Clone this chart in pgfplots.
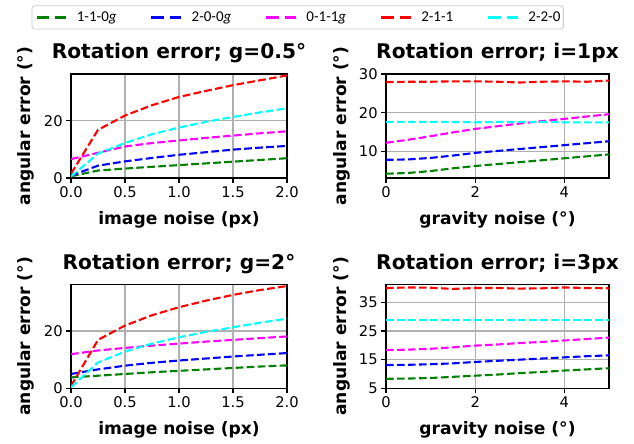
\documentclass[border=0pt]{standalone}
\usepackage{fontspec}
\setmainfont{DejaVu Sans}
\newfontfamily\legfont{Carlito}
\usepackage{pgfplots}
\pgfplotsset{compat=1.18}
\definecolor{mgreen}{rgb}{0,0.5,0}
\definecolor{mblue}{rgb}{0,0,1}
\definecolor{mmag}{rgb}{1,0,1}
\definecolor{mred}{rgb}{1,0,0}
\definecolor{mcyan}{rgb}{0,1,1}
\pgfplotsset{
 myax/.style={
  scale only axis, height=104pt,
  axis line style={line width=1.1pt},
  tick align=outside, major tick length=4.8pt,
  every tick/.style={black,line width=1.1pt},
  xtick pos=lower, ytick pos=left,
  grid=major, major grid style={line width=1.1pt, color=black!31},
  tick label style={font=\fontsize{14.7}{17}\selectfont},
  /pgf/number format/assume math mode=true,
  label style={font=\bfseries\fontsize{17.1}{20}\selectfont},
  title style={font=\bfseries\fontsize{20.2}{24}\selectfont, at={(axis description cs:0.5,1)}, anchor=base, yshift=9pt},
  every axis plot/.append style={line width=2.1pt, dash pattern=on 7.7pt off 3.3pt, mark=none},
  ylabel={angular error (°)},
  xlabel style={at={(axis description cs:0.5,-0.404)}, anchor=center},
 },
 leftax/.style={myax, width=216pt, xmin=0, xmax=2, ymin=0, ymax=36.3,
  xtick={0,0.5,1,1.5,2}, ytick={0,20},
  xticklabel style={/pgf/number format/.cd, fixed, fixed zerofill, precision=1},
  xlabel={image noise (px)},
  ylabel style={at={(axis description cs:-0.21,0.5)}, anchor=center}},
 rightax/.style={myax, width=223pt, xmin=0, xmax=5,
  xtick={0,2,4},
  xlabel={gravity noise (°)},
  ylabel style={at={(axis description cs:-0.199,0.5)}, anchor=center}},
}
\begin{document}
\begin{tikzpicture}
\useasboundingbox (0,0) rectangle (634pt,444pt);
% top left
\begin{axis}[leftax, at={(71pt,266pt)}, anchor=south west,
  title={Rotation error; g=0.5°},
  legend columns=5,
  legend image code/.code={\draw[#1, line width=3.4pt, dash pattern=on 12.8pt off 5.6pt] (0pt,0pt) -- (29.5pt,0pt);},
  legend style={at={(axis description cs:-0.1806,1.4327)}, anchor=south west,
    draw=black!20, line width=0.8pt, rounded corners=2.5pt, fill=white,
    inner xsep=3pt, inner ysep=6pt, outer sep=0pt,
    font=\legfont\fontsize{15}{18}\selectfont,
    nodes={inner sep=0pt},
    /tikz/every odd column/.append style={column sep=9pt},
    /tikz/every even column/.append style={column sep=33.2pt}},
  legend cell align=left]
\addplot[mgreen] coordinates {(0,0.6)(0.25,2.6)(0.5,3.3)(0.75,3.9)(1,4.5)(1.25,5.1)(1.5,5.7)(1.75,6.3)(2,6.9)};
\addlegendentry{1-1-0\textit{g}}
\addplot[mblue] coordinates {(0,0.8)(0.25,4.3)(0.5,5.8)(0.75,7.0)(1,8.1)(1.25,9.0)(1.5,9.9)(1.75,10.6)(2,11.2)};
\addlegendentry{2-0-0\textit{g}}
\addplot[mmag] coordinates {(0,6.6)(0.25,8.8)(0.5,11.0)(0.75,12.2)(1,13.1)(1.25,14.0)(1.5,14.8)(1.75,15.6)(2,16.3)};
\addlegendentry{0-1-1\textit{g}}
\addplot[mred] coordinates {(0,1.5)(0.25,16.8)(0.5,21.8)(0.75,25.4)(1,28.3)(1.25,30.4)(1.5,32.4)(1.75,34.1)(2,35.8)};
\addlegendentry{2-1-1}
\addplot[mcyan] coordinates {(0,0.5)(0.25,8.5)(0.5,12.2)(0.75,15.3)(1,17.6)(1.25,19.6)(1.5,21.3)(1.75,22.9)(2,24.3)};
\addlegendentry{2-2-0}
\end{axis}
% top right
\begin{axis}[rightax, at={(386pt,266pt)}, anchor=south west,
  title={Rotation error; i=1px}, ymin=3.1, ymax=30, ytick={10,20,30}]
\addplot[mgreen] coordinates {(0,4.2)(0.5,4.4)(1,4.9)(1.5,5.6)(2,6.2)(2.5,6.7)(3,7.2)(3.5,7.7)(4,8.2)(4.5,8.7)(5,9.2)};
\addplot[mblue] coordinates {(0,7.8)(0.5,7.9)(1,8.3)(1.5,8.9)(2,9.6)(2.5,10.1)(3,10.6)(3.5,11.1)(4,11.6)(4.5,12.1)(5,12.6)};
\addplot[mmag] coordinates {(0,12.2)(0.5,13.0)(1,13.9)(1.5,14.9)(2,15.8)(2.5,16.5)(3,17.2)(3.5,17.8)(4,18.4)(4.5,19.0)(5,19.6)};
\addplot[mred] coordinates {(0,27.9)(0.5,28.0)(1,28.0)(1.5,28.1)(2,28.1)(2.5,28.0)(3,27.8)(3.5,28.0)(4,28.1)(4.5,28.0)(5,28.3)};
\addplot[mcyan] coordinates {(0,17.6)(0.5,17.6)(1,17.6)(1.5,17.6)(2,17.5)(2.5,17.6)(3,17.6)(3.5,17.6)(4,17.5)(4.5,17.5)(5,17.5)};
\end{axis}
% bottom left
\begin{axis}[leftax, at={(71pt,55.7pt)}, anchor=south west,
  title={Rotation error; g=2°}]
\addplot[mgreen] coordinates {(0,3.8)(0.25,4.4)(0.5,5.0)(0.75,5.6)(1,6.1)(1.25,6.6)(1.5,7.1)(1.75,7.6)(2,8.0)};
\addplot[mblue] coordinates {(0,5.0)(0.25,6.6)(0.5,7.9)(0.75,8.9)(1,9.7)(1.25,10.4)(1.5,11.1)(1.75,11.7)(2,12.3)};
\addplot[mmag] coordinates {(0,11.9)(0.25,13.2)(0.5,14.1)(0.75,14.9)(1,15.6)(1.25,16.3)(1.5,16.9)(1.75,17.5)(2,18.1)};
\addplot[mred] coordinates {(0,0.8)(0.25,16.9)(0.5,21.9)(0.75,25.5)(1,28.3)(1.25,30.6)(1.5,32.6)(1.75,34.3)(2,35.7)};
\addplot[mcyan] coordinates {(0,0.3)(0.25,9.0)(0.5,12.8)(0.75,15.6)(1,17.8)(1.25,19.7)(1.5,21.3)(1.75,22.9)(2,24.3)};
\end{axis}
% bottom right
\begin{axis}[rightax, at={(386pt,55.7pt)}, anchor=south west,
  title={Rotation error; i=3px}, ymin=5, ymax=41.3, ytick={5,15,25,35}]
\addplot[mgreen] coordinates {(0,8.3)(0.5,8.4)(1,8.6)(1.5,9.0)(2,9.4)(2.5,9.8)(3,10.3)(3.5,10.7)(4,11.2)(4.5,11.6)(5,12.0)};
\addplot[mblue] coordinates {(0,13.1)(0.5,13.2)(1,13.4)(1.5,13.7)(2,14.2)(2.5,14.6)(3,15.0)(3.5,15.4)(4,15.8)(4.5,16.2)(5,16.5)};
\addplot[mmag] coordinates {(0,18.3)(0.5,18.5)(1,18.8)(1.5,19.3)(2,19.9)(2.5,20.3)(3,20.8)(3.5,21.2)(4,21.7)(4.5,22.2)(5,22.7)};
\addplot[mred] coordinates {(0,40.0)(0.5,40.2)(1,40.1)(1.5,39.7)(2,40.0)(2.5,40.0)(3,39.8)(3.5,39.9)(4,40.2)(4.5,40.0)(5,39.9)};
\addplot[mcyan] coordinates {(0,28.8)(0.5,28.8)(1,28.8)(1.5,28.8)(2,28.8)(2.5,28.8)(3,28.8)(3.5,28.8)(4,28.8)(4.5,28.8)(5,28.8)};
\end{axis}
\end{tikzpicture}
\end{document}
